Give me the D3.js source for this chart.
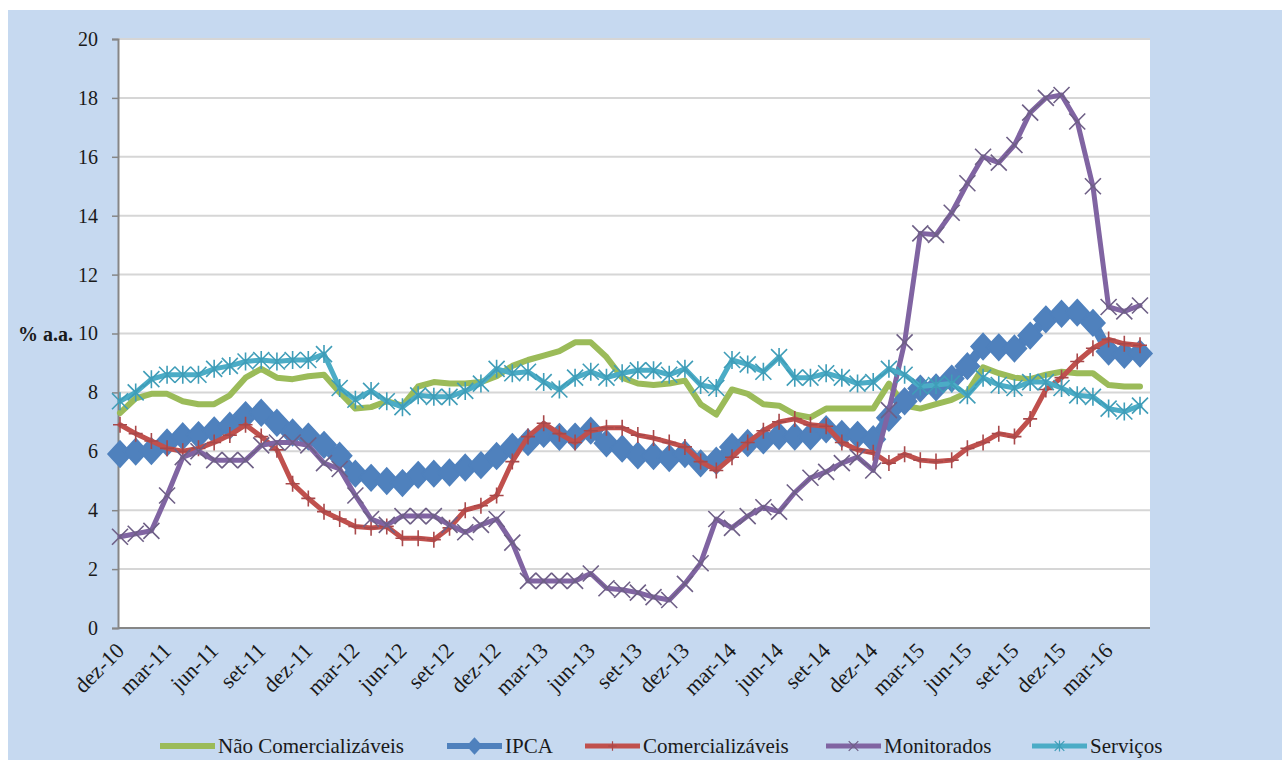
<!DOCTYPE html>
<html>
<head>
<meta charset="utf-8">
<script src="https://cdn.jsdelivr.net/npm/d3@7"></script>
<style>
  body { margin: 0; background: #fff; }
  svg text { font-family: "Liberation Serif", "Times New Roman", Times, "DejaVu Serif", serif; fill: #1a1a1a; }
</style>
</head>
<body>
<div id="chart"></div>
<script>
// Months on the category axis (dez-10 .. mai-16)
const months = [
  'dez-10',
  'jan-11','fev-11','mar-11','abr-11','mai-11','jun-11','jul-11','ago-11','set-11','out-11','nov-11','dez-11',
  'jan-12','fev-12','mar-12','abr-12','mai-12','jun-12','jul-12','ago-12','set-12','out-12','nov-12','dez-12',
  'jan-13','fev-13','mar-13','abr-13','mai-13','jun-13','jul-13','ago-13','set-13','out-13','nov-13','dez-13',
  'jan-14','fev-14','mar-14','abr-14','mai-14','jun-14','jul-14','ago-14','set-14','out-14','nov-14','dez-14',
  'jan-15','fev-15','mar-15','abr-15','mai-15','jun-15','jul-15','ago-15','set-15','out-15','nov-15','dez-15',
  'jan-16','fev-16','mar-16','abr-16','mai-16'];

// Labels shown on the x axis (every third month)
const tickLabels = ['dez-10','mar-11','jun-11','set-11','dez-11','mar-12','jun-12','set-12',
  'dez-12','mar-13','jun-13','set-13','dez-13','mar-14','jun-14','set-14','dez-14',
  'mar-15','jun-15','set-15','dez-15','mar-16'];

const yTicks = [0, 2, 4, 6, 8, 10, 12, 14, 16, 18, 20];

// % a.a., 12-month figures
const naoComercializaveis = [7.3, 7.8, 7.95, 7.95, 7.7, 7.6, 7.6, 7.9, 8.5, 8.8, 8.5, 8.45, 8.55,
  8.6, 8.0, 7.45, 7.5, 7.7, 7.55, 8.2, 8.35, 8.3, 8.3, 8.35, 8.55,
  8.9, 9.1, 9.25, 9.4, 9.7, 9.7, 9.2, 8.5, 8.3, 8.25, 8.3, 8.4,
  7.6, 7.25, 8.1, 7.95, 7.6, 7.55, 7.25, 7.15, 7.45, 7.45, 7.45, 7.45,
  8.3, 7.55, 7.45, 7.6, 7.75, 8.0, 8.85, 8.65, 8.5, 8.45, 8.6, 8.7,
  8.65, 8.65, 8.25, 8.2, 8.2];

const ipca = [5.91, 5.99, 6.01, 6.30, 6.51, 6.55, 6.71, 6.87, 7.23, 7.31, 6.97, 6.64, 6.50,
  6.22, 5.85, 5.24, 5.10, 4.99, 4.92, 5.20, 5.24, 5.28, 5.45, 5.53, 5.84,
  6.15, 6.31, 6.59, 6.49, 6.50, 6.70, 6.27, 6.09, 5.86, 5.84, 5.77, 5.91,
  5.59, 5.68, 6.15, 6.28, 6.37, 6.52, 6.50, 6.51, 6.75, 6.59, 6.56, 6.41,
  7.14, 7.70, 8.13, 8.17, 8.47, 8.89, 9.56, 9.53, 9.49, 9.93, 10.48, 10.67,
  10.71, 10.36, 9.39, 9.28, 9.32];

const comercializaveis = [6.9, 6.6, 6.35, 6.1, 6.0, 6.1, 6.3, 6.55, 6.9, 6.5, 6.05, 4.9, 4.4,
  3.95, 3.7, 3.45, 3.4, 3.45, 3.05, 3.05, 3.0, 3.4, 4.0, 4.15, 4.5,
  5.65, 6.5, 6.95, 6.6, 6.3, 6.7, 6.8, 6.8, 6.55, 6.45, 6.3, 6.15,
  5.65, 5.35, 5.8, 6.3, 6.7, 7.0, 7.1, 6.9, 6.85, 6.3, 6.05, 5.95,
  5.6, 5.9, 5.7, 5.65, 5.7, 6.1, 6.3, 6.6, 6.5, 7.1, 8.1, 8.5,
  9.05, 9.5, 9.8, 9.65, 9.6];

const monitorados = [3.1, 3.2, 3.3, 4.5, 5.8, 6.0, 5.7, 5.7, 5.7, 6.2, 6.3, 6.3, 6.2,
  5.6, 5.4, 4.5, 3.7, 3.5, 3.8, 3.8, 3.8, 3.5, 3.25, 3.5, 3.7,
  2.9, 1.6, 1.6, 1.6, 1.6, 1.85, 1.35, 1.3, 1.2, 1.05, 0.95, 1.5,
  2.2, 3.7, 3.4, 3.8, 4.1, 3.95, 4.6, 5.1, 5.3, 5.6, 5.8, 5.35,
  7.4, 9.7, 13.4, 13.35, 14.1, 15.1, 16.0, 15.8, 16.4, 17.5, 18.0, 18.1,
  17.2, 15.0, 10.9, 10.75, 10.95];

const servicos = [7.7, 8.0, 8.45, 8.6, 8.6, 8.6, 8.8, 8.9, 9.05, 9.1, 9.05, 9.1, 9.1,
  9.3, 8.15, 7.75, 8.05, 7.7, 7.5, 7.9, 7.85, 7.85, 8.05, 8.3, 8.8,
  8.65, 8.7, 8.35, 8.1, 8.5, 8.7, 8.5, 8.65, 8.75, 8.75, 8.6, 8.8,
  8.25, 8.15, 9.1, 8.95, 8.7, 9.2, 8.5, 8.5, 8.65, 8.5, 8.3, 8.35,
  8.8, 8.6, 8.2, 8.25, 8.3, 7.9, 8.5, 8.25, 8.15, 8.35, 8.35, 8.15,
  7.9, 7.85, 7.45, 7.35, 7.55];

// Marker shapes (path strings, drawn around 0,0)
const markerPaths = {
  none: null,
  diamond: 'M0,-13L12,0L0,13L-12,0Z',
  plus: 'M-7,0H7M0,-8V8',
  cross: 'M-8,-8L8,8M-8,8L8,-8',
  star: 'M-8,-8L8,8M-8,8L8,-8M0,-9V9'
};

// Series in Excel draw order (later ones on top)
const series = [
  { name: 'Não Comercializáveis', values: naoComercializaveis, color: '#9bbb59', width: 6, marker: 'none' },
  { name: 'IPCA', values: ipca, color: '#4f81bd', width: 10, marker: 'diamond', mFill: '#4f81bd', mStroke: '#4f81bd' },
  { name: 'Comercializáveis', values: comercializaveis, color: '#c0504d', width: 5, marker: 'plus', mStroke: '#a8484a' },
  { name: 'Monitorados', values: monitorados, color: '#8064a2', width: 5, marker: 'cross', mStroke: '#6e5f86' },
  { name: 'Serviços', values: servicos, color: '#4bacc6', width: 5, marker: 'star', mStroke: '#3f9db8' }
];

const W = 1282, H = 760,
  plot = { left: 118, right: 1150, top: 39, bottom: 628 },
  serif = '"Liberation Serif", "Times New Roman", Times, "DejaVu Serif", serif';

const svg = d3.select('#chart').
  append('svg').
  attr('width', W).
  attr('height', H).
  attr('font-family', serif);

// Light blue chart area (white margin top and left as in the scan)
svg.append('rect').attr('x', 0).attr('y', 0).attr('width', W).attr('height', H).attr('fill', '#fff');
svg.append('rect').
  attr('x', 8).attr('y', 10).
  attr('width', W - 8).attr('height', H - 10).
  attr('fill', '#c6d9f0');

// White plot area
svg.append('rect').
  attr('x', plot.left).attr('y', plot.top).
  attr('width', plot.right - plot.left).
  attr('height', plot.bottom - plot.top).
  attr('fill', '#fff');

const x = d3.scalePoint().
  domain(months).
  range([120, 1140]);

const y = d3.scaleLinear().
  domain([0, 20]).
  range([plot.bottom, plot.top]);

// Horizontal gridlines
svg.append('g').
  selectAll('line').
  data(yTicks.filter(d => d > 0)).
  enter().
  append('line').
  attr('x1', plot.left).
  attr('x2', plot.right).
  attr('y1', d => y(d)).
  attr('y2', d => y(d)).
  attr('stroke', '#d6d6d6').
  attr('stroke-width', 2);

// Y axis
const yAxis = svg.append('g').
  attr('transform', 'translate(' + plot.left + ',0)').
  call(d3.axisLeft(y).tickValues(yTicks).tickSize(6).tickPadding(14).tickFormat(d3.format('d')));
yAxis.attr('font-family', serif);
yAxis.select('.domain').attr('stroke', '#868686').attr('stroke-width', 2);
yAxis.selectAll('.tick line').attr('stroke', '#868686').attr('stroke-width', 1.5);
yAxis.selectAll('.tick text').
  attr('font-size', 20).
  attr('fill', '#1a1a1a');

// Unit label next to "10"
svg.append('text').
  attr('x', 18).
  attr('y', y(10) + 7).
  attr('font-size', 20).
  attr('font-weight', 'bold').
  text('% a.a.');

// X axis, labels rotated 45 degrees
const xAxis = svg.append('g').
  attr('transform', 'translate(0,' + plot.bottom + ')').
  call(d3.axisBottom(x).tickValues(tickLabels).tickSize(0));
xAxis.attr('font-family', serif);
xAxis.select('.domain').
  attr('d', 'M' + plot.left + ',0H' + plot.right).
  attr('stroke', '#868686').
  attr('stroke-width', 2);
xAxis.selectAll('.tick text').
  attr('font-size', 22).
  attr('fill', '#1a1a1a').
  attr('text-anchor', 'end').
  attr('dy', 0).
  attr('y', 0).
  attr('transform', 'translate(5,24) rotate(-45)');

// Lines and markers
const line = d3.line().
  x((d, i) => x(months[i])).
  y(d => y(d));

const groups = svg.selectAll('g.series').
  data(series).
  enter().
  append('g').
  attr('class', 'series');

groups.append('path').
  attr('d', s => line(s.values)).
  attr('fill', 'none').
  attr('stroke', s => s.color).
  attr('stroke-width', s => s.width).
  attr('stroke-linejoin', 'round').
  attr('stroke-linecap', 'round');

groups.filter(s => s.marker !== 'none').
  selectAll('path.marker').
  data(s => s.values.map((v, i) => ({ v: v, i: i, s: s }))).
  enter().
  append('path').
  attr('class', 'marker').
  attr('transform', d => 'translate(' + x(months[d.i]) + ',' + y(d.v) + ')').
  attr('d', d => markerPaths[d.s.marker]).
  attr('fill', d => d.s.mFill || 'none').
  attr('stroke', d => d.s.mStroke).
  attr('stroke-width', 1.6);

// Legend along the bottom
const legendX = [160, 447, 585, 826, 1032],
  legendY = 746,
  sampleLen = 55;

const legend = svg.selectAll('g.legend').
  data(series).
  enter().
  append('g').
  attr('class', 'legend').
  attr('transform', (d, i) => 'translate(' + legendX[i] + ',' + legendY + ')');

legend.append('line').
  attr('x1', 0).
  attr('x2', sampleLen).
  attr('stroke', s => s.color).
  attr('stroke-width', s => Math.min(s.width, 6));

legend.filter(s => s.marker !== 'none').
  append('path').
  attr('transform', 'translate(' + sampleLen / 2 + ',0) scale(0.6)').
  attr('d', s => markerPaths[s.marker]).
  attr('fill', s => s.mFill || 'none').
  attr('stroke', s => s.mStroke).
  attr('stroke-width', 2);

legend.append('text').
  attr('x', sampleLen + 3).
  attr('y', 7).
  attr('font-size', 21).
  text(s => s.name);
</script>
</body>
</html>
